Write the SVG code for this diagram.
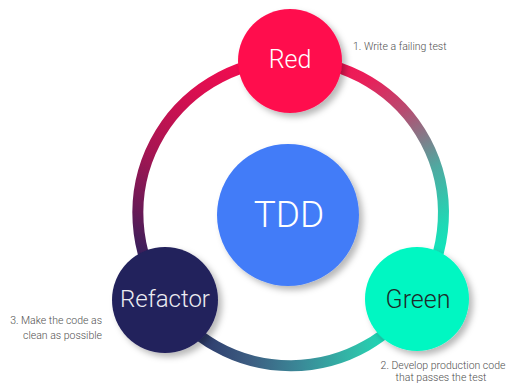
<svg xmlns="http://www.w3.org/2000/svg" width="507" height="385" viewBox="0 0 507 385">
  <style>
    .lbl { font-family: Roboto, "Open Sans", "Liberation Sans", sans-serif; font-weight: 300; text-anchor: middle; }
    .note { font-family: Roboto, "Open Sans", "Liberation Sans", sans-serif; font-weight: 300; font-size: 10.5px; fill: #505050; }
    .arc { fill: none; stroke-width: 11; stroke-linecap: butt; }
    .node { filter: url(#shadow); }
  </style>
  <defs>
    <filter id="shadow" x="-30%" y="-30%" width="160%" height="160%">
      <feDropShadow dx="4" dy="4" stdDeviation="3" flood-color="#000" flood-opacity="0.28"/>
    </filter>
    <!-- ring segments: Red -> Green -->
    <linearGradient id="gRight" gradientUnits="userSpaceOnUse" x1="290" y1="60" x2="417" y2="299">
      <stop offset="0" stop-color="#ff0a50"/>
      <stop offset="0.2" stop-color="#e8205a"/>
      <stop offset="0.36" stop-color="#b84a70"/>
      <stop offset="0.6" stop-color="#50a8a0"/>
      <stop offset="0.8" stop-color="#20d8b5"/>
      <stop offset="1" stop-color="#00f5c4"/>
    </linearGradient>
    <!-- Green -> Refactor -->
    <linearGradient id="gBottom" gradientUnits="userSpaceOnUse" x1="417" y1="299" x2="165" y2="300">
      <stop offset="0" stop-color="#00f5c4"/>
      <stop offset="0.23" stop-color="#30c0aa"/>
      <stop offset="0.46" stop-color="#3a8a98"/>
      <stop offset="0.66" stop-color="#3d5e82"/>
      <stop offset="1" stop-color="#22215c"/>
    </linearGradient>
    <!-- Refactor -> Red -->
    <linearGradient id="gLeft" gradientUnits="userSpaceOnUse" x1="165" y1="300" x2="290" y2="60">
      <stop offset="0" stop-color="#22215c"/>
      <stop offset="0.1" stop-color="#35205c"/>
      <stop offset="0.25" stop-color="#6a1a56"/>
      <stop offset="0.47" stop-color="#a81552"/>
      <stop offset="0.75" stop-color="#dc0e50"/>
      <stop offset="1" stop-color="#ff0a50"/>
    </linearGradient>
  </defs>

  <rect width="507" height="385" fill="#ffffff"/>

  <!-- cycle ring -->
  <g id="connectors">
    <path class="arc" stroke="url(#gRight)" d="M290 60 A153 153 0 0 1 417 299"/>
    <path class="arc" stroke="url(#gBottom)" d="M417 299 A153 153 0 0 1 165 300"/>
    <path class="arc" stroke="url(#gLeft)" d="M165 300 A153 153 0 0 1 290 60"/>
  </g>

  <g id="tdd">
    <circle class="node" cx="288" cy="215" r="71" fill="#437cf8"/>
    <text class="lbl" x="289" y="227" font-size="37" fill="#ffffff">TDD</text>
  </g>

  <g id="red">
    <circle class="node" cx="290" cy="61" r="52" fill="#ff0a4e"/>
    <text class="lbl" x="290" y="68" font-size="25" fill="#ffffff">Red</text>
  </g>

  <g id="green">
    <circle class="node" cx="417" cy="299" r="52" fill="#00f7c2"/>
    <text class="lbl" x="418" y="308" font-size="25" fill="#1d2b2a">Green</text>
  </g>

  <g id="refactor">
    <circle class="node" cx="165" cy="300" r="53" fill="#22215c"/>
    <text class="lbl" x="165" y="307" font-size="24" fill="#ececf2">Refactor</text>
  </g>

  <g id="notes">
    <text class="note" x="353" y="50">1. Write a failing test</text>
    <text class="note" x="443" y="369" text-anchor="middle">2. Develop production code</text>
    <text class="note" x="441" y="381" text-anchor="middle">that passes the test</text>
    <text class="note" x="102" y="324" text-anchor="end">3. Make the code as</text>
    <text class="note" x="102" y="339" text-anchor="end">clean as possible</text>
  </g>
</svg>
